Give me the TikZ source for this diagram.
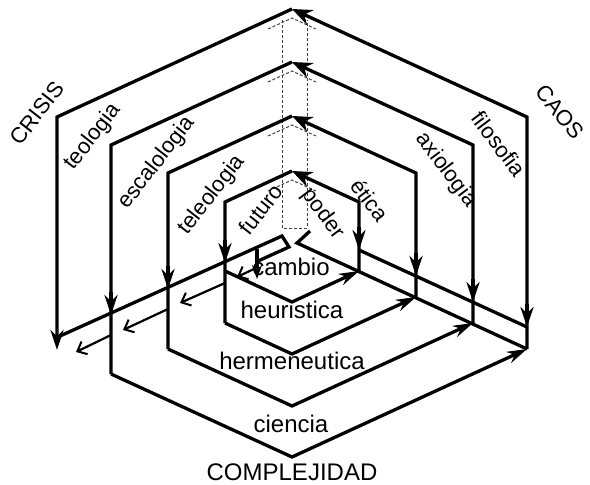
\documentclass[tikz,border=0pt]{standalone}
\usepackage{fontspec}
\setmainfont{Liberation Sans}
\usetikzlibrary{arrows.meta}
\begin{document}
\begin{tikzpicture}[x=1pt,y=-1pt,
  ln/.style={line width=3.3pt},
  apexarr/.style={ln,-{Stealth[length=20pt,width=16pt]}},
  downarr/.style={ln,-{Stealth[length=20pt,width=13pt]}},
  smallarr/.style={ln,-{Stealth[length=14pt,width=10pt]}},
  chevarr/.style={ln,-{Stealth[length=20pt,width=12pt]}},
  openarr/.style={line width=2.2pt,-{Straight Barb[length=8pt,width=14pt,line width=2pt]}},
  ghost/.style={line width=1pt,dash pattern=on 3pt off 2pt,black!75},
  hlbl/.style={font=\fontsize{24}{28}\selectfont,inner sep=0pt,anchor=base},
  rlbl/.style={font=\fontsize{22}{26}\selectfont,inner sep=0pt},
]
\useasboundingbox (0,0) rectangle (590,485);

% apexes
\coordinate (A0) at (292,171);
\coordinate (A1) at (292,116);
\coordinate (A2) at (292,62);
\coordinate (A3) at (292,9);
% left corners
\coordinate (CL0) at (225,202);
\coordinate (CL1) at (168,173);
\coordinate (CL2) at (111,145);
\coordinate (CL3) at (57,117);
% right corners
\coordinate (CR0) at (359,202);
\coordinate (CR1) at (416,173);
\coordinate (CR2) at (473,145);
\coordinate (CR3) at (527,117);
% chevrons
\coordinate (K0l) at (225,271); \coordinate (K0b) at (292,302); \coordinate (K0r) at (359,271);
\coordinate (K1l) at (225,323); \coordinate (K1b) at (292,354); \coordinate (K1r) at (416,297);
\coordinate (K2l) at (168,349); \coordinate (K2b) at (292,406); \coordinate (K2r) at (473,323);
\coordinate (K3l) at (111,374); \coordinate (K3b) at (292,457); \coordinate (K3r) at (527,349);
\coordinate (L3e) at (57,350);

% ghost strip (dashed)
\coordinate (G1) at (282,20); \coordinate (G2) at (282,228);
\coordinate (G3) at (307,228); \coordinate (G4) at (307,20);
\draw[ghost] (G1) -- (G2) -- (G3) -- (G4);
\foreach \a in {9,62,116,171}{
  \draw[ghost] (268,\a+20) -- (292,\a+9) -- (316,\a+20);
}

% left faces
\draw[ln] (A0) -- (CL0) -- (K1l);
\draw[ln] (A1) -- (CL1) -- (K2l);
\draw[ln] (A2) -- (CL2) -- (K3l);
\draw[downarr] (A3) -- (CL3) -- (L3e);

% right faces
\draw[apexarr] (K0r) -- (CR0) -- (A0);
\draw[apexarr] (K1r) -- (CR1) -- (A1);
\draw[apexarr] (K2r) -- (CR2) -- (A2);
\draw[apexarr] (K3r) -- (CR3) -- (A3);

% bottom chevrons
\draw[chevarr] (K0l) -- (K0b) -- (K0r);
\draw[chevarr] (K1l) -- (K1b) -- (K1r);
\draw[chevarr] (K2l) -- (K2b) -- (K2r);
\draw[chevarr] (K3l) -- (K3b) -- (K3r);

% floor lines, left
\coordinate (UL0) at (60,336); \coordinate (UL1) at (282,236);
\coordinate (LB1) at (289,247); \coordinate (LB2) at (258,261);
\draw[ln] (UL0) -- (UL1) -- (LB1) -- (LB2);
\coordinate (SA0) at (257,249); \coordinate (SA1) at (257,279);
\draw[smallarr] (SA0) -- (SA1);
% down arrows on left verticals
\draw[downarr] (225,240) -- (225,263);
\draw[downarr] (168,266) -- (168,289);
\draw[downarr] (111,292) -- (111,315);
% open arrows, lower left
\draw[openarr] (111,335) -- (76,352);
\draw[openarr] (168,309) -- (123,330);
\draw[openarr] (225,283) -- (180,303);
\draw[openarr] (256,268) -- (237,277);

% floor lines, right
\coordinate (UR0) at (359,250); \coordinate (UR1) at (527,327);
\draw[ln] (UR0) -- (UR1);
\coordinate (RB0) at (310,231); \coordinate (RB1) at (297,243);
\draw[ln] (RB0) -- (RB1) -- (K3r);
% down arrows on right verticals
\draw[downarr] (359,227) -- (359,250);
\draw[downarr] (416,253) -- (416,276);
\draw[downarr] (473,279) -- (473,302);
\draw[downarr] (527,304) -- (527,327);

% labels
\node[rlbl,rotate=52] (crisis) at (37,113) {CRISIS};
\node[rlbl,rotate=52] (teo) at (93,137) {teologia};
\node[rlbl,rotate=52] (esc) at (157,163) {escalologia};
\node[rlbl,rotate=52] (tel) at (212,195) {teleologia};
\node[rlbl,rotate=52] (fut) at (261,209) {futuro};
\node[rlbl,rotate=-53] (pod) at (323,214) {poder};
\node[rlbl,rotate=-53] (eti) at (370,200) {ética};
\node[rlbl,rotate=-53] (axi) at (446,170) {axiologia};
\node[rlbl,rotate=-53] (fil) at (499,144) {filosofia};
\node[rlbl,rotate=-50] (caos) at (560,112) {CAOS};
\node[hlbl] (cam) at (291,275) {cambio};
\node[hlbl] (heu) at (292,318) {heuristica};
\node[hlbl] (her) at (292,369) {hermeneutica};
\node[hlbl] (cie) at (291,432) {ciencia};
\node[hlbl] (comp) at (292,480) {COMPLEJIDAD};
\end{tikzpicture}
\end{document}
